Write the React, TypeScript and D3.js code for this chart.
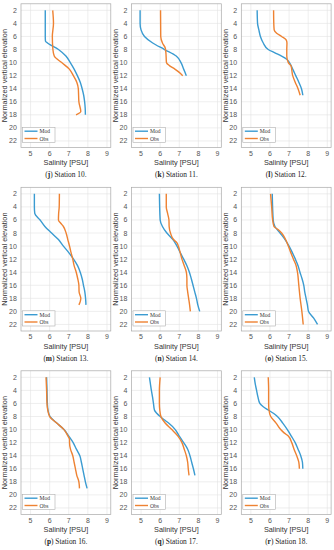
import React from "react";
import * as d3 from "d3";

// [normalized vertical elevation, salinity PSU]
const s10Mod: [number, number][] = [[2,5.77],[4,5.77],[6,5.77],[6.7,5.78],[6.9,5.84],[8,6.46],[9,6.85],[10,7.08],[11,7.28],[12,7.45],[13,7.6],[14,7.7],[15,7.78],[16,7.83],[17,7.86],[18,7.87]];
const s10Obs: [number, number][] = [[2,6.16],[4,6.2],[6,6.14],[8,6.17],[9,6.24],[10,6.63],[11,7.03],[12,7.24],[13,7.42],[14,7.5],[16,7.53],[17.5,7.63],[18,7.38]];
const s11Mod: [number, number][] = [[2,4.95],[4,4.95],[5,5.0],[6,5.18],[7,5.61],[8,6.23],[9,6.84],[10,7.09],[11,7.23],[12,7.37]];
const s11Obs: [number, number][] = [[2,6.02],[6,6.03],[7,6.12],[7.8,6.27],[8.5,6.3],[10,6.33],[10.5,6.5],[11,6.77],[11.5,7.0],[12,7.18]];
const s12Mod: [number, number][] = [[2,5.33],[4,5.35],[5,5.42],[6,5.5],[7,5.65],[8,5.91],[8.5,6.26],[9,6.61],[9.5,6.88],[10,7.02],[11,7.19],[12,7.35],[13,7.51],[14,7.65],[15,7.72]];
const s12Obs: [number, number][] = [[2,6.19],[4,6.2],[5,6.22],[5.5,6.35],[6,6.61],[6.5,6.84],[7,6.89],[8,6.88],[9,6.88],[10,6.96],[10.5,7.1],[12,7.19],[13,7.32],[14,7.47],[15,7.58]];
const s13Mod: [number, number][] = [[2,5.2],[4,5.2],[5,5.22],[6,5.5],[7,5.75],[8,6.1],[9,6.46],[10,6.72],[11,7.0],[12,7.25],[13,7.46],[14,7.6],[15,7.7],[16,7.77],[17,7.84],[18,7.88],[19,7.9]];
const s13Obs: [number, number][] = [[2,6.51],[4,6.5],[5,6.47],[6,6.46],[6.5,6.58],[7,6.72],[8,6.86],[9,6.95],[10,7.04],[11,7.12],[12,7.21],[13,7.28],[14,7.39],[15,7.47],[16,7.53],[17,7.54],[18,7.63],[18.5,7.6],[19,7.53]];
const s14Mod: [number, number][] = [[2,5.96],[6,6.0],[7,6.12],[8,6.35],[9,6.67],[10,6.88],[11,7.05],[12,7.23],[13,7.4],[14,7.53],[15,7.63],[16,7.72],[17,7.81],[18,7.9],[19,7.97],[20,8.07]];
const s14Obs: [number, number][] = [[2,6.32],[4,6.32],[5,6.39],[6,6.46],[7,6.47],[8,6.54],[9,6.7],[9.5,6.88],[10,6.95],[11,7.05],[12,7.14],[13,7.26],[14,7.37],[15,7.4],[16,7.4],[17,7.44],[18,7.49],[19,7.54],[20,7.58]];
const s15Mod: [number, number][] = [[2,6.12],[6,6.17],[7,6.26],[8,6.53],[9,6.79],[10,7.0],[11,7.17],[12,7.33],[13,7.47],[14,7.57],[15,7.68],[16,7.77],[17,7.82],[18,7.89],[19,7.96],[20,8.02],[21,8.28],[22,8.49]];
const s15Obs: [number, number][] = [[2,6.03],[4,6.09],[6,6.14],[7,6.21],[7.5,6.44],[8,6.61],[9,6.82],[10,6.96],[11,7.09],[12,7.23],[13,7.37],[14,7.44],[16,7.51],[18,7.58],[20,7.67],[22,7.74]];
const s16Mod: [number, number][] = [[2,5.84],[4,5.86],[6,5.88],[7,5.91],[8,6.02],[9,6.37],[10,6.75],[11,7.0],[12,7.23],[13,7.4],[14,7.58],[15,7.66],[16,7.73],[17,7.8],[18,7.87],[19,7.96]];
const s16Obs: [number, number][] = [[2,5.81],[4,5.84],[6,5.86],[7,5.9],[8,6.0],[9,6.37],[10,6.75],[11,6.96],[11.5,7.04],[12,7.04],[13,7.09],[14,7.21],[15,7.28],[16,7.35],[17,7.42],[18,7.53],[19,7.56]];
const s17Mod: [number, number][] = [[2,5.44],[3,5.49],[4,5.54],[5,5.6],[6,5.65],[7,5.7],[7.5,5.82],[8,6.0],[8.5,6.21],[9,6.44],[10,6.79],[11,7.0],[12,7.23],[13,7.44],[14,7.56],[15,7.65],[16,7.74],[17,7.82]];
const s17Obs: [number, number][] = [[2,6.0],[4,5.96],[6,5.96],[7,5.98],[8,6.04],[9,6.26],[10,6.61],[11,6.93],[12,7.14],[13,7.26],[14,7.37],[15,7.44],[16,7.47],[17,7.51]];
const s18Mod: [number, number][] = [[2,5.18],[3,5.23],[4,5.3],[5,5.37],[6,5.47],[6.5,5.65],[7,5.91],[7.5,6.18],[8,6.39],[9,6.67],[10,6.91],[11,7.12],[12,7.32],[13,7.47],[14,7.61],[15,7.7],[16,7.72]];
const s18Obs: [number, number][] = [[2,5.91],[4,5.93],[6,5.93],[7,5.95],[8,6.04],[9,6.32],[10,6.56],[10.5,6.74],[11,6.96],[12,7.14],[13,7.26],[14,7.4],[15,7.51],[16,7.54]];

const letters = ["j", "k", "l", "m", "n", "o", "p", "q", "r"];
const stations = [10, 11, 12, 13, 14, 15, 16, 17, 18];
const modSeries = [s10Mod, s11Mod, s12Mod, s13Mod, s14Mod, s15Mod, s16Mod, s17Mod, s18Mod];
const obsSeries = [s10Obs, s11Obs, s12Obs, s13Obs, s14Obs, s15Obs, s16Obs, s17Obs, s18Obs];
const xTicks = [5, 6, 7, 8, 9];
const yTicks = [2, 4, 6, 8, 10, 12, 14, 16, 18, 20, 22];
const seriesNames = ["Mod", "Obs"];

const MOD = "#3a9bd1";
const OBS = "#ee8232";
const colX = [0, 110.5, 220.3];
const rowY = [0, 183.5, 367];

const x = d3.scaleLinear().domain([4.5, 9.2]).range([21, 110.8]);
const y = d3.scaleLinear().domain([1, 23]).range([3.8, 147.5]);
const line = d3
  .line<[number, number]>()
  .x((d) => x(d[1]))
  .y((d) => y(d[0]))
  .curve(d3.curveMonotoneY);

const sans = "'Liberation Sans', Arial, sans-serif";
const serif = "'Liberation Serif', 'Times New Roman', serif";

function Panel({ i }: { i: number }) {
  const [x0, x1] = x.range();
  const [y0, y1] = y.range();
  const tx = colX[i % 3];
  const ty = rowY[Math.floor(i / 3)];
  const cx = (x0 + x1) / 2;
  return (
    <g transform={`translate(${tx},${ty})`}>
      <rect x={x0} y={y0} width={x1 - x0} height={y1 - y0} fill="#fff" />
      {xTicks.map((t) => (
        <line key={"gx" + t} x1={x(t)} x2={x(t)} y1={y0} y2={y1} stroke="#e3e3e3" strokeWidth={0.6} />
      ))}
      {yTicks.map((t) => (
        <line key={"gy" + t} x1={x0} x2={x1} y1={y(t)} y2={y(t)} stroke="#e3e3e3" strokeWidth={0.6} />
      ))}
      <path d={line(modSeries[i]) || ""} fill="none" stroke={MOD} strokeWidth={1.4} />
      <path d={line(obsSeries[i]) || ""} fill="none" stroke={OBS} strokeWidth={1.4} />
      <rect x={x0} y={y0} width={x1 - x0} height={y1 - y0} fill="none" stroke="#a8a8a8" strokeWidth={0.7} />
      {xTicks.map((t) => (
        <text key={"tx" + t} x={x(t)} y={155.5} fontSize={7} fontFamily={sans} fill="#555" textAnchor="middle">
          {t}
        </text>
      ))}
      {yTicks.map((t) => (
        <text key={"ty" + t} x={16.8} y={y(t) + 2.5} fontSize={7} fontFamily={sans} fill="#555" textAnchor="end">
          {t}
        </text>
      ))}
      <text x={cx} y={165} fontSize={7.3} fontFamily={sans} fill="#333" textAnchor="middle">
        Salinity [PSU]
      </text>
      <text
        transform={`translate(7.2,${(y0 + y1) / 2}) rotate(-90)`}
        fontSize={7.3}
        fontFamily={sans}
        fill="#333"
        textAnchor="middle"
      >
        Normalized vertical elevation
      </text>
      <g>
        <rect x={22.5} y={127.3} width={32.5} height={15.2} fill="#fff" stroke="#b0b0b0" strokeWidth={0.6} />
        {seriesNames.map((n, k) => (
          <g key={n}>
            <line x1={24.5} x2={37.5} y1={131.2 + k * 7.3} y2={131.2 + k * 7.3} stroke={k === 0 ? MOD : OBS} strokeWidth={1.4} />
            <text x={39.5} y={133.2 + k * 7.3} fontSize={5.6} fontFamily={serif} fill="#333">
              {n}
            </text>
          </g>
        ))}
      </g>
      <text x={cx} y={177} fontSize={7.4} fontFamily={serif} fill="#222" textAnchor="middle">
        <tspan>(</tspan>
        <tspan fontWeight="bold">{letters[i]}</tspan>
        <tspan>) Station {stations[i]}.</tspan>
      </text>
    </g>
  );
}

export default function App() {
  return (
    <svg
      width={334}
      height={550}
      viewBox="0 0 334 550"
      style={{ position: "absolute", left: 0, top: 0, background: "#fff" }}
    >
      <rect width={334} height={550} fill="#fff" />
      {stations.map((_, i) => (
        <Panel key={i} i={i} />
      ))}
    </svg>
  );
}
